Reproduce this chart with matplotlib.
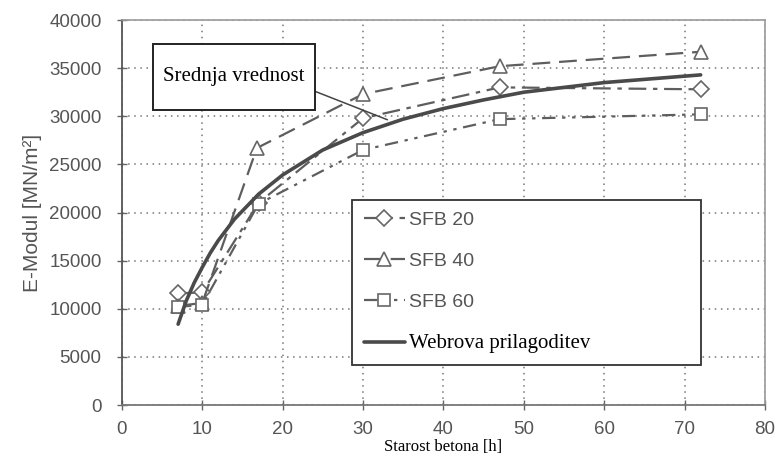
import matplotlib
matplotlib.use("Agg")
import matplotlib.pyplot as plt
from matplotlib.patches import Rectangle

# ---- data ----
t_sfb20 = [7, 10, 17, 30, 47, 72]
e_sfb20 = [11600, 11700, 21000, 29800, 33000, 32800]

t_sfb40 = [7, 10, 16.8, 30, 47, 72]
e_sfb40 = [10300, 10600, 26700, 32300, 35200, 36700]

t_sfb60 = [7, 10, 17, 30, 47, 72]
e_sfb60 = [10200, 10400, 20900, 26500, 29700, 30200]

t_fit = [7, 8, 9, 10, 11, 12, 14, 17, 20, 25, 30, 35, 40, 45, 50, 60, 72]
e_fit = [8400, 10800, 12700, 14300, 15800, 17100, 19300, 21900, 23900,
         26500, 28300, 29700, 30800, 31700, 32500, 33500, 34300]

labels = ["SFB 20", "SFB 40", "SFB 60", "Webrova prilagoditev"]
xticks = [0, 10, 20, 30, 40, 50, 60, 70, 80]
yticks = [0, 5000, 10000, 15000, 20000, 25000, 30000, 35000, 40000]

sans = "Liberation Sans"
serif = "Liberation Serif"
gray = "#555555"
lcol = "#5e5e5e"

fig = plt.figure(figsize=(7.81, 4.59), dpi=100)
ax = fig.add_axes([0.156, 0.1176, 0.8235, 0.8388])

ax.set_xlim(0, 80)
ax.set_ylim(0, 40000)
ax.set_xticks(xticks)
ax.set_yticks(yticks)
ax.grid(True, linestyle=(0, (1, 3)), color="#777777", linewidth=1.1)
ax.set_axisbelow(True)

for sp in ["top", "right"]:
    ax.spines[sp].set_color("#9a9a9a")
    ax.spines[sp].set_linewidth(1.2)
ax.spines["left"].set_color("#555555")
ax.spines["bottom"].set_color("#777777")
ax.spines["left"].set_linewidth(1.3)
ax.spines["bottom"].set_linewidth(1.3)

ax.tick_params(axis="both", colors="#666666", labelcolor=gray, labelsize=13.5,
               direction="inout", length=7, width=1)
ax.tick_params(axis="y", pad=11)
ax.tick_params(axis="x", pad=8)
for lab in ax.get_xticklabels() + ax.get_yticklabels():
    lab.set_fontfamily(sans)

mk = dict(markerfacecolor="white", markeredgecolor="#666666", markeredgewidth=1.2)
ax.plot(t_sfb20, e_sfb20, color=lcol, lw=1.6, linestyle=(0, (8, 3, 2, 3)),
        marker="D", markersize=8, label=labels[0], **mk)
ax.plot(t_sfb40, e_sfb40, color=lcol, lw=1.6, linestyle=(0, (8, 4)),
        marker="^", markersize=9.5, label=labels[1], **mk)
ax.plot(t_sfb60, e_sfb60, color=lcol, lw=1.6, linestyle=(0, (6, 3, 1.5, 3, 1.5, 3)),
        marker="s", markersize=8, label=labels[2], **mk)
ax.plot(t_fit, e_fit, color="#4a4a4a", lw=2.6, solid_capstyle="round",
        label=labels[3])

ax.set_xlabel("Starost betona [h]", fontfamily=serif, fontsize=12, color="black",
              labelpad=1)
ax.set_ylabel("E-Modul [MN/m²]", fontfamily=sans, fontsize=15, color=gray,
              labelpad=5)

# annotation box
ax.add_patch(Rectangle((3.86, 30650), 24.0 - 3.86, 37500 - 30650, facecolor="white",
                       edgecolor="#222222", lw=1.4, zorder=5))
ax.text(13.9, 34100, "Srednja vrednost", fontfamily=serif, fontsize=15,
        ha="center", va="center", color="black", zorder=6)
ax.plot([24.0, 33.0], [32600, 29650], color="#444444", lw=1.1, zorder=4)

leg = ax.legend(loc="lower left", bbox_to_anchor=(0.358, 0.104, 0.542, 0.436),
                mode="expand", borderaxespad=0, fancybox=False, framealpha=1,
                edgecolor="#333333", fontsize=14, handlelength=2.1,
                handletextpad=0.25, borderpad=0.6, labelspacing=1.2,
                numpoints=1)
leg.get_frame().set_linewidth(1.3)
leg.set_zorder(7)
for i, txt in enumerate(leg.get_texts()):
    if i < 3:
        txt.set_fontfamily(sans)
        txt.set_color(gray)
    else:
        txt.set_fontfamily(serif)
        txt.set_fontsize(15)
        txt.set_color("black")

fig.savefig("out.png", dpi=100)
